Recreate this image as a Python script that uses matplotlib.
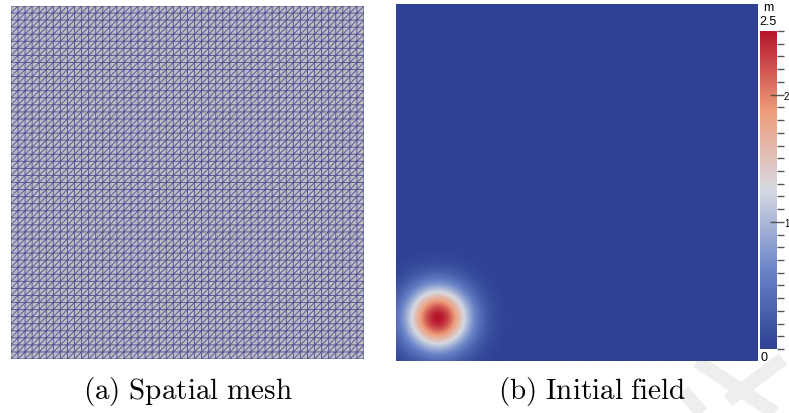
import matplotlib
matplotlib.use('Agg')
import matplotlib.pyplot as plt
import matplotlib.tri as mtri
import numpy as np
from matplotlib.colors import LinearSegmentedColormap
from matplotlib.lines import Line2D

plt.rcParams['mathtext.fontset'] = 'cm'

# mesh: number of square cells per side, each split into two triangles
n_cells = 50
# initial field: gaussian hump (height in m), centre and width in domain units
peak_height = 2.5
hump_x0, hump_y0 = 0.115, 0.12
hump_sigma = 0.062
# colorbar
cbar_labels = [1, 2]
captions = ['(a) Spatial mesh', '(b) Initial field']

cool_warm = LinearSegmentedColormap.from_list(
    'cool_warm', ['#2e4194', '#6a84c8', '#d6d9e2', '#ee9c7a', '#b5152b'])

fig = plt.figure(figsize=(7.89, 4.14), dpi=100)

# ---- (a) spatial mesh
ax_mesh = fig.add_axes((0.0139, 0.1304, 0.4474, 0.8527))
xs = np.linspace(0, 1, n_cells + 1)
gx, gy = np.meshgrid(xs, xs)
gx, gy = gx.ravel(), gy.ravel()
triangles = []
for j in range(n_cells):
    for i in range(n_cells):
        a = j * (n_cells + 1) + i
        b, c, d = a + 1, a + n_cells + 1, a + n_cells + 2
        triangles.append([a, b, d])
        triangles.append([a, d, c])
tri = mtri.Triangulation(gx, gy, triangles)
ax_mesh.set_facecolor('#bdbdc4')
ax_mesh.triplot(tri, color='#40408e', lw=0.7, alpha=0.8)
ax_mesh.set_xlim(0, 1)
ax_mesh.set_ylim(0, 1)
ax_mesh.set_xticks([])
ax_mesh.set_yticks([])
for sp in ax_mesh.spines.values():
    sp.set_visible(False)

# ---- (b) initial field
ax_field = fig.add_axes((0.5019, 0.1256, 0.4588, 0.8623))
fx = np.linspace(0, 1, 400)
fxx, fyy = np.meshgrid(fx, fx)
field = peak_height * np.exp(-((fxx - hump_x0) ** 2 + (fyy - hump_y0) ** 2)
                             / (2 * hump_sigma ** 2))
im = ax_field.imshow(field, origin='lower', extent=(0, 1, 0, 1), cmap=cool_warm,
                     vmin=0, vmax=peak_height, aspect='auto', interpolation='bilinear')
ax_field.axis('off')

# ---- colorbar
ax_cbar = fig.add_axes((0.9632, 0.1546, 0.0215, 0.768))
cbar = fig.colorbar(im, cax=ax_cbar)
cbar.outline.set_visible(False)
cbar.set_ticks(cbar_labels)
cbar.ax.set_yticks(np.arange(0, peak_height + 0.01, 0.1), minor=True)
cbar.ax.yaxis.set_tick_params(which='major', direction='inout', length=10,
                              width=1, color='#555555', labelsize=7, pad=0)
cbar.ax.yaxis.set_tick_params(which='minor', direction='out', length=5,
                              width=1, color='#555555')
for lab in cbar.ax.get_yticklabels():
    lab.set_family('Liberation Sans')
fig.text(0.9632 + 0.0107, 0.948, '2.5', ha='center', va='center', fontsize=9,
         family='Liberation Sans')
fig.text(0.9632 + 0.0107, 0.98, 'm', ha='center', va='center', fontsize=9,
         family='Liberation Sans')
fig.text(0.9632 + 0.005, 0.135, '0', ha='center', va='center', fontsize=9,
         family='Liberation Sans')

# ---- faint watermark strokes
wm = dict(color='#eeeeee', lw=10, solid_capstyle='butt', zorder=0)
fig.add_artist(Line2D([697 / 789, 775 / 789], [1 - 362 / 414, 0], **wm))
fig.add_artist(Line2D([783 / 789, 728 / 789], [1 - 360 / 414, 0.03], **wm))
fig.add_artist(Line2D([683 / 789, 702 / 789], [1 - 392 / 414, 0], **wm))

# ---- captions
fig.text(188 / 789, 0.055, r'$\mathrm{%s}$' % captions[0].replace(' ', r'\ '),
         ha='center', va='center', fontsize=21)
fig.text(592 / 789, 0.055, r'$\mathrm{%s}$' % captions[1].replace(' ', r'\ '),
         ha='center', va='center', fontsize=21)

fig.savefig('out.png', dpi=100)
